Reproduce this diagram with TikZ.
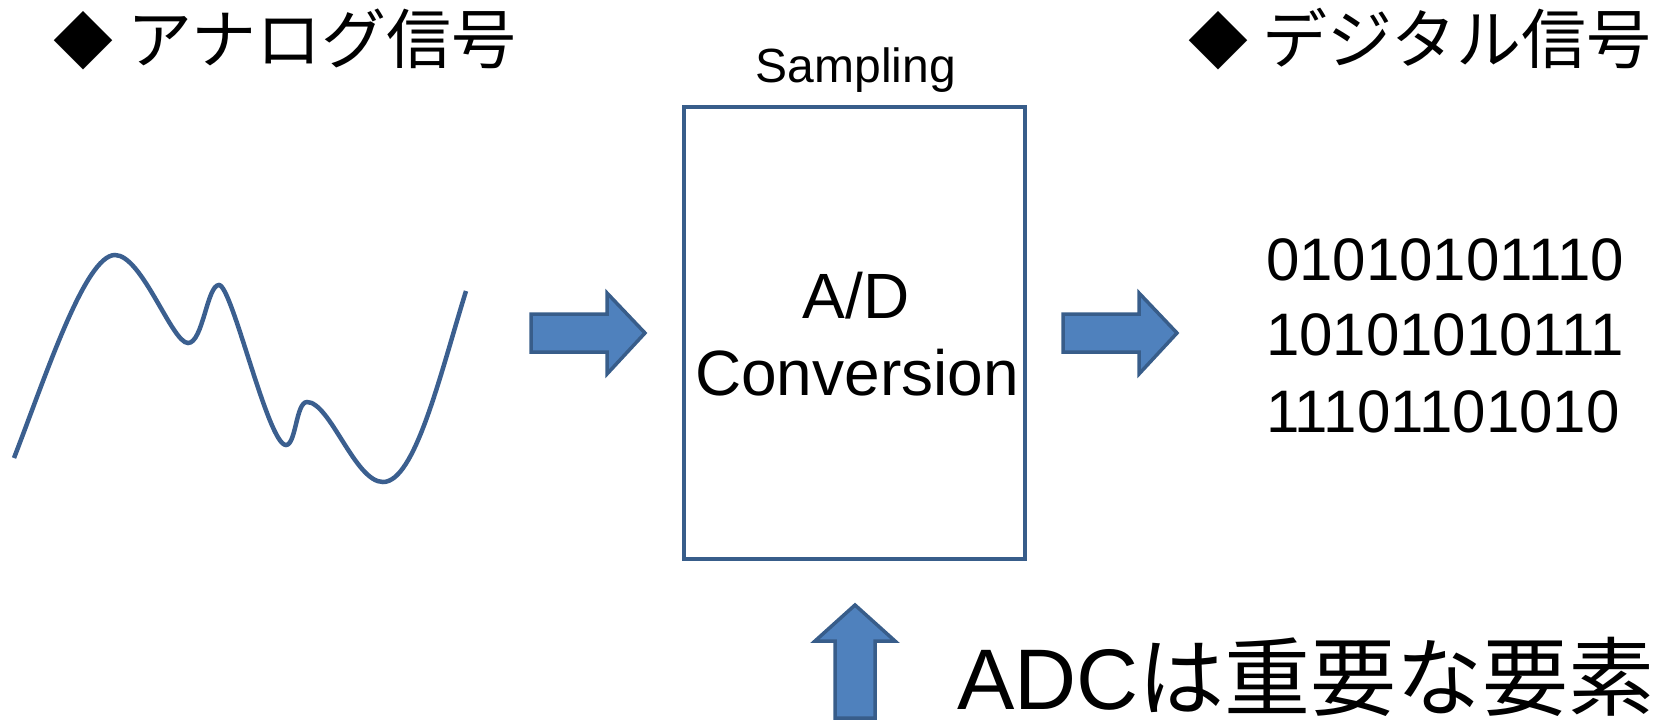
\documentclass[tikz,border=0pt]{standalone}
\usepackage{fontspec}
\setmainfont{Liberation Sans}
\newfontfamily\jp{Noto Sans CJK JP}
\definecolor{arrowfill}{HTML}{4F81BD}
\definecolor{arrowline}{HTML}{385D8A}
\definecolor{wave}{HTML}{3B5F8F}
\begin{document}
\begin{tikzpicture}[x=1pt,y=-1pt,
  blockarrow/.style={fill=arrowfill, draw=arrowline, line width=3.5pt, line join=miter},
  txt/.style={inner sep=0pt, outer sep=0pt, anchor=base},
  convbox/.style={draw=arrowline, line width=3.5pt, inner sep=0pt, outer sep=0pt, minimum width=341pt, minimum height=452pt},
 ]
\useasboundingbox (0,0) rectangle (1661,721);
% titles
\node[txt, anchor=base west, font={\jp\fontsize{65}{65}\selectfont}] (atitle) at (53,63) {{\fontsize{60}{60}\selectfont ◆} アナログ信号};
\node[txt, anchor=base west, font={\jp\fontsize{65}{65}\selectfont}] (dtitle) at (1188,63) {{\fontsize{60}{60}\selectfont ◆} デジタル信号};
% analog wave
\draw[wave, line width=4.5pt] (14,458)
  .. controls (45,378) and (85,255) .. (115,255)
  .. controls (142,255) and (172,343) .. (188,343)
  .. controls (203,343) and (207,285) .. (219,285)
  .. controls (232,285) and (268,445) .. (286,445)
  .. controls (296,445) and (296,402) .. (307,402)
  .. controls (330,402) and (355,482) .. (383,482)
  .. controls (415,482) and (440,375) .. (466,291);
% conversion box
\node[convbox] (conv) at (854.5,333) {};
\node[txt, font={\fontsize{48}{48}\selectfont}] (samp) at (856,82) {Sampling};
\node[txt, font={\fontsize{64}{64}\selectfont}] (ad) at (856,318) {A/D};
\node[txt, font={\fontsize{64}{64}\selectfont}] (cv) at (857,395) {Conversion};
% block arrows
\draw[blockarrow] (531,314) -- (607,314) -- (607,293) -- (645,333) -- (607,374) -- (607,352) -- (531,352) -- cycle;
\draw[blockarrow] (1063,314) -- (1139,314) -- (1139,293) -- (1177,333) -- (1139,374) -- (1139,352) -- (1063,352) -- cycle;
\draw[blockarrow] (835,718) -- (835,641) -- (815,641) -- (855,605) -- (895,641) -- (875,641) -- (875,718) -- cycle;
% digital data
\node[txt, anchor=base west, font={\fontsize{60}{60}\selectfont}] (d1) at (1266,280) {01010101110};
\node[txt, anchor=base west, font={\fontsize{60}{60}\selectfont}] (d2) at (1266,355) {10101010111};
\node[txt, anchor=base west, font={\fontsize{60}{60}\selectfont}] (d3) at (1266,432) {11101101010};
% bottom caption
\node[txt, anchor=base west, font={\fontsize{86}{86}\selectfont}] (adc) at (957,709) {ADC{\jp は重要な要素}};
\end{tikzpicture}
\end{document}
